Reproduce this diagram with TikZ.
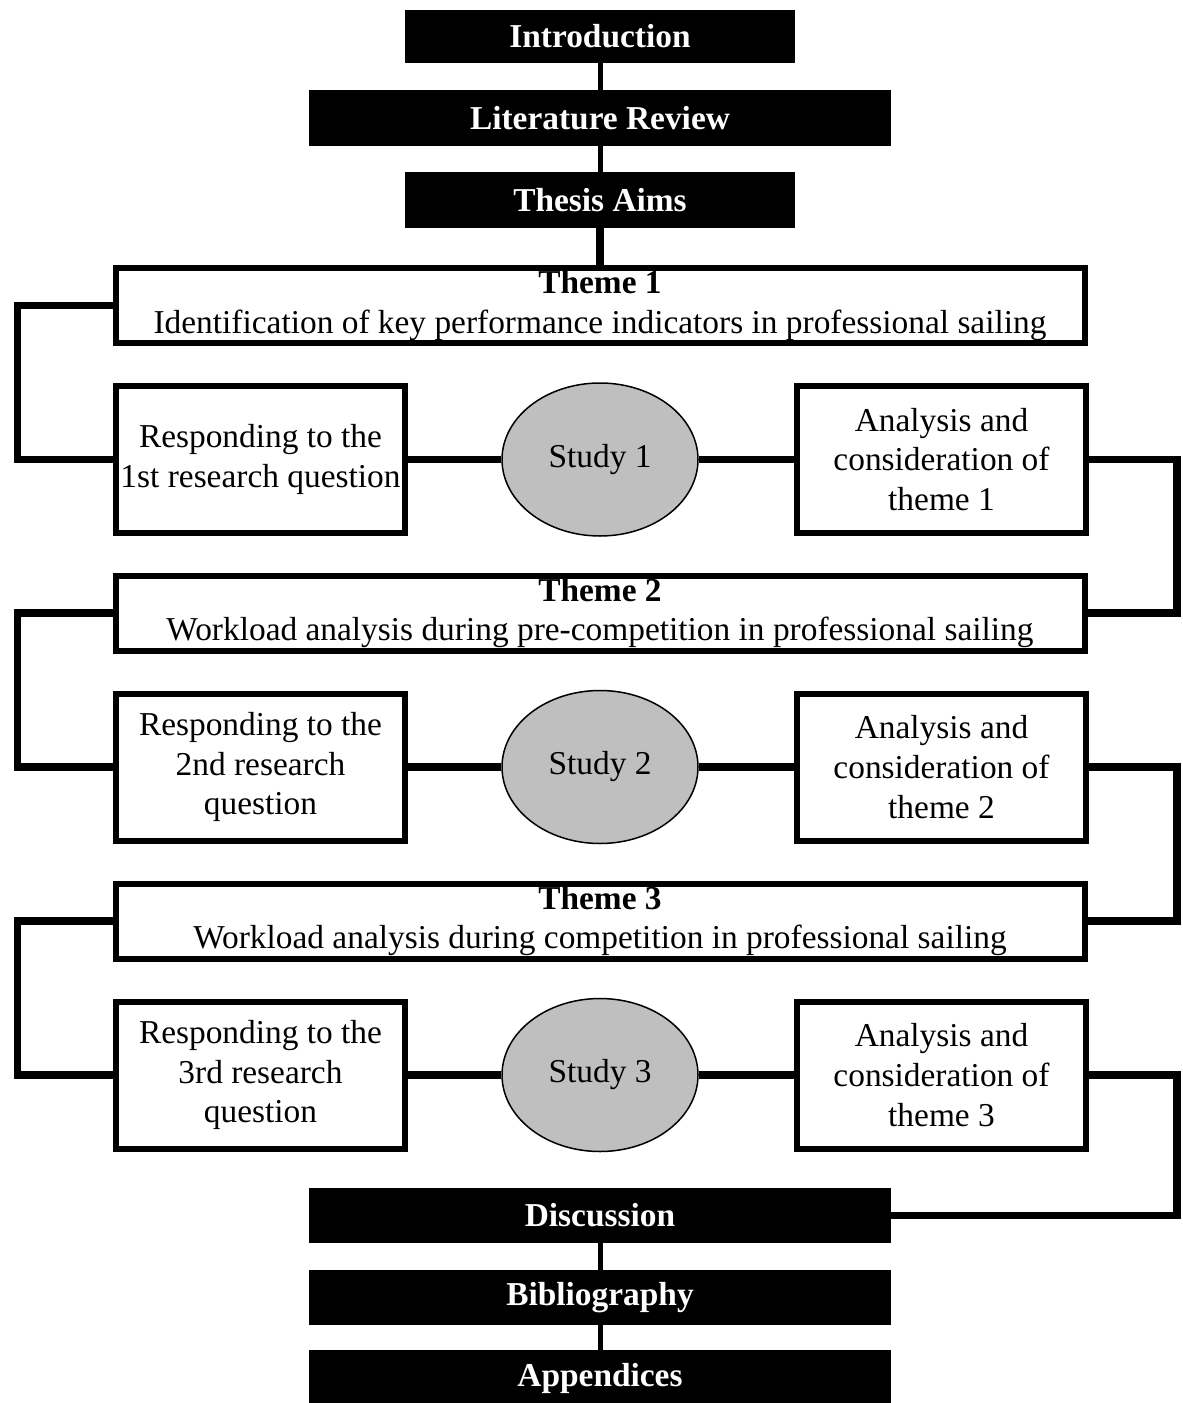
\documentclass[tikz,border=0pt]{standalone}
\usepackage{fontspec}
\setmainfont{Liberation Serif}
\usetikzlibrary{positioning,
        shapes.geometric}

\begin{document}
\begin{tikzpicture}[
        chapter/.style={rectangle,fill=black,text=white,font=\fontsize{19}{22.7}\selectfont\bfseries,inner sep=0pt},
        theme/.style={rectangle,draw,line width=0.12cm,minimum width=19.38cm,minimum height=1.5cm,align=center,font=\fontsize{19}{22.7}\selectfont,inner sep=0pt},
        part/.style={rectangle,draw,line width=0.12cm,minimum width=5.78cm,minimum height=2.94cm,align=center,font=\fontsize{19}{22.7}\selectfont,inner sep=0pt},
        study/.style={ellipse,draw,line width=0.03cm,fill=black!25,minimum width=3.92cm,minimum height=3.06cm,font=\fontsize{19}{22.7}\selectfont},
        link/.style={line width=0.15cm},
        thin link/.style={line width=0.1cm}]
            \useasboundingbox (0,0) rectangle (23.64,-28.06);

            \node [chapter,minimum width=7.8cm,minimum height=1.06cm] (Intro) at (12,-0.73) {Introduction};
            \node [chapter,minimum width=11.64cm,minimum height=1.12cm] (Lit) at (12,-2.36) {Literature Review};
            \node [chapter,minimum width=7.8cm,minimum height=1.12cm] (Aims) at (12,-4) {Thesis Aims};

            \node [theme] (T1) at (12,-6.11) {\textbf{Theme 1}\\Identification of key performance indicators in professional sailing};
            \node [part] (R1) at (5.21,-9.19) {Responding to the\\1st research question};
            \node [study] (S1) at (12,-9.19) {Study 1};
            \node [part] (A1) at (18.83,-9.19) {Analysis and\\consideration of\\theme 1};

            \node [theme] (T2) at (12,-12.26) {\textbf{Theme 2}\\Workload analysis during pre-competition in professional sailing};
            \node [part] (R2) at (5.21,-15.34) {Responding to the\\2nd research\\question};
            \node [study] (S2) at (12,-15.34) {Study 2};
            \node [part] (A2) at (18.83,-15.34) {Analysis and\\consideration of\\theme 2};

            \node [theme] (T3) at (12,-18.42) {\textbf{Theme 3}\\Workload analysis during competition in professional sailing};
            \node [part] (R3) at (5.21,-21.5) {Responding to the\\3rd research\\question};
            \node [study] (S3) at (12,-21.5) {Study 3};
            \node [part] (A3) at (18.83,-21.5) {Analysis and\\consideration of\\theme 3};

            \node [chapter,minimum width=11.64cm,minimum height=1.1cm] (Disc) at (12,-24.31) {Discussion};
            \node [chapter,minimum width=11.64cm,minimum height=1.1cm] (Bib) at (12,-25.95) {Bibliography};
            \node [chapter,minimum width=11.64cm,minimum height=1.12cm] (App) at (12,-27.56) {Appendices};

            \draw [thin link] (Intro) -- (Lit);
            \draw [thin link] (Lit) -- (Aims);
            \draw [link] (Aims) -- (T1);

            \draw [link] (T1.west) -- ++(-1.9,0) |- (R1.west);
            \draw [link] (R1) -- (S1);
            \draw [link] (S1) -- (A1);
            \draw [link] (A1.east) -- ++(1.76,0) |- (T2.east);

            \draw [link] (T2.west) -- ++(-1.9,0) |- (R2.west);
            \draw [link] (R2) -- (S2);
            \draw [link] (S2) -- (A2);
            \draw [link] (A2.east) -- ++(1.76,0) |- (T3.east);

            \draw [link] (T3.west) -- ++(-1.9,0) |- (R3.west);
            \draw [link] (R3) -- (S3);
            \draw [link] (S3) -- (A3);
            \draw [link] (A3.east) -- ++(1.76,0) |- (Disc.east);

            \draw [thin link] (Disc) -- (Bib);
            \draw [thin link] (Bib) -- (App);
        \end{tikzpicture}
\end{document}
